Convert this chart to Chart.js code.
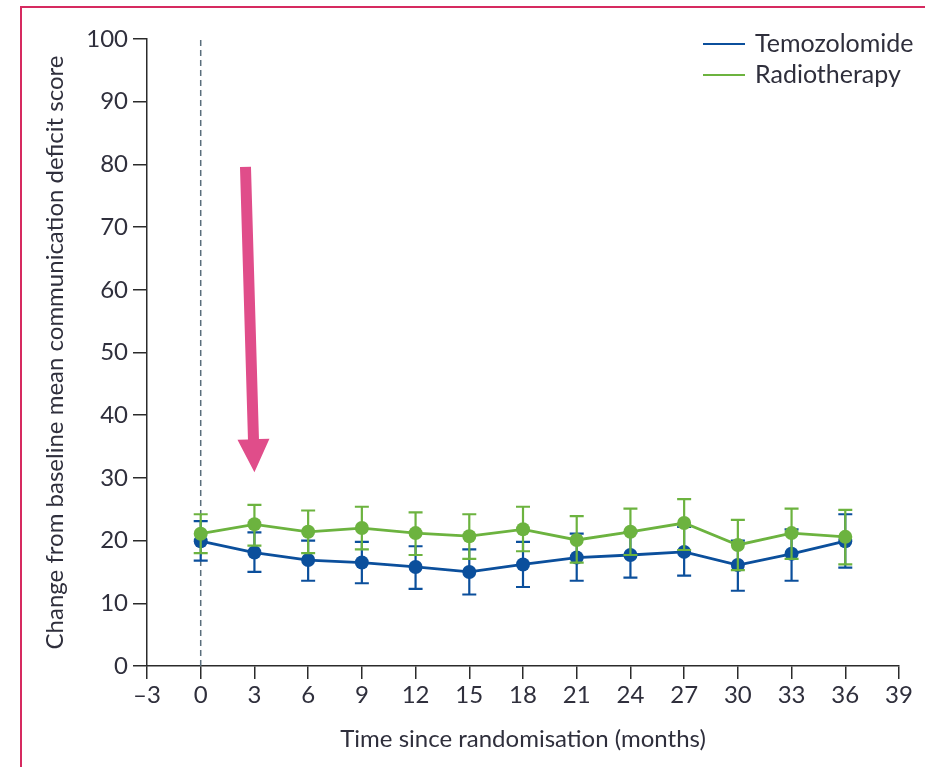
<!DOCTYPE html>
<html>
<head>
<meta charset="utf-8">
<script src="https://cdn.jsdelivr.net/npm/chart.js@4.4.1/dist/chart.umd.min.js"></script>
<style>
  html, body { margin: 0; padding: 0; background: #ffffff; }
  #wrap { position: relative; width: 925px; height: 767px; overflow: hidden; }
  #frame { position: absolute; left: 20px; top: 6px; width: 1000px; height: 1000px;
           border-left: 2px solid #d62a60; border-top: 2px solid #d62a60; }
  canvas { position: absolute; left: 0; top: 0; }
</style>
</head>
<body>
<div id="wrap">
  <div id="frame"></div>
  <canvas id="c" width="925" height="767"></canvas>
</div>
<script>
// ---- data ----
const months = [0, 3, 6, 9, 12, 15, 18, 21, 24, 27, 30, 33, 36];
const temozolomide      = [19.9, 18.1, 16.9, 16.5, 15.8, 15.0, 16.2, 17.3, 17.7, 18.2, 16.1, 17.9, 19.9];
const temozolomideLow   = [16.8, 15.0, 13.6, 13.2, 12.3, 11.4, 12.6, 13.6, 14.1, 14.4, 12.0, 13.6, 15.7];
const temozolomideHigh  = [23.1, 21.3, 20.0, 19.8, 19.1, 18.6, 19.8, 21.1, 21.3, 22.2, 20.0, 21.8, 24.2];
const radiotherapy      = [21.1, 22.6, 21.4, 22.0, 21.2, 20.7, 21.8, 20.1, 21.4, 22.8, 19.3, 21.2, 20.6];
const radiotherapyLow   = [18.0, 19.2, 18.0, 18.6, 17.7, 17.1, 18.3, 16.5, 17.7, 18.5, 15.3, 17.1, 16.2];
const radiotherapyHigh  = [24.2, 25.7, 24.8, 25.4, 24.5, 24.2, 25.4, 23.9, 25.1, 26.6, 23.3, 25.1, 24.9];
const xTicks = [-3, 0, 3, 6, 9, 12, 15, 18, 21, 24, 27, 30, 33, 36, 39];
const yTicks = [0, 10, 20, 30, 40, 50, 60, 70, 80, 90, 100];
const seriesLabels = ['Temozolomide', 'Radiotherapy'];
const baselineLine = [{ x: 0, y: 0 }, { x: 0, y: 100.3 }];
const arrowFrom = { x: 2.5, y: 79.6 };
const arrowTo = { x: 3.0, y: 30.9 };

// ---- styles ----
const BLUE = '#0b4f9c';
const GREEN = '#6cb33f';
const TEXT = '#2f2f3c';
const AXIS = '#2b2b2b';
const FONT = 'Lato, "Open Sans", sans-serif';

const toPts = (ys) => months.map((m, i) => ({ x: m, y: ys[i] }));

const errorBars = {
  id: 'errorBars',
  beforeDatasetDraw(chart, args) {
    const ds = chart.data.datasets[args.index];
    if (!ds.low) return;
    const ctx = chart.ctx;
    const xs = chart.scales.x, ys = chart.scales.y;
    ctx.save();
    ctx.strokeStyle = ds.borderColor;
    ctx.lineWidth = 2.2;
    ds.data.forEach((p, i) => {
      const x = xs.getPixelForValue(p.x);
      const yl = ys.getPixelForValue(ds.low[i]);
      const yh = ys.getPixelForValue(ds.high[i]);
      ctx.beginPath();
      ctx.moveTo(x, yl); ctx.lineTo(x, yh);
      ctx.moveTo(x - 7, yl); ctx.lineTo(x + 7, yl);
      ctx.moveTo(x - 7, yh); ctx.lineTo(x + 7, yh);
      ctx.stroke();
    });
    ctx.restore();
  }
};

const extras = {
  id: 'extras',
  afterDraw(chart) {
    const ctx = chart.ctx;
    const xs = chart.scales.x, ys = chart.scales.y;
    // arrow
    const x1 = xs.getPixelForValue(arrowFrom.x), y1 = ys.getPixelForValue(arrowFrom.y);
    const x2 = xs.getPixelForValue(arrowTo.x), y2 = ys.getPixelForValue(arrowTo.y);
    const ang = Math.atan2(y2 - y1, x2 - x1);
    const headLen = 33, headHalf = 16, shaftHalf = 5.5;
    const bx = x2 - headLen * Math.cos(ang), by = y2 - headLen * Math.sin(ang);
    const nx = -Math.sin(ang), ny = Math.cos(ang);
    ctx.save();
    ctx.fillStyle = '#e04d8a';
    ctx.beginPath();
    ctx.moveTo(x1 + nx * shaftHalf, y1 + ny * shaftHalf);
    ctx.lineTo(bx + nx * shaftHalf, by + ny * shaftHalf);
    ctx.lineTo(bx + nx * headHalf, by + ny * headHalf);
    ctx.lineTo(x2, y2);
    ctx.lineTo(bx - nx * headHalf, by - ny * headHalf);
    ctx.lineTo(bx - nx * shaftHalf, by - ny * shaftHalf);
    ctx.lineTo(x1 - nx * shaftHalf, y1 - ny * shaftHalf);
    ctx.closePath();
    ctx.fill();
    // legend (in series order)
    ctx.font = '25px ' + FONT;
    ctx.textBaseline = 'middle';
    seriesLabels.forEach((lab, i) => {
      const d = chart.data.datasets.find(ds => ds.label === lab);
      const y = 44 + i * 31;
      ctx.strokeStyle = d.borderColor;
      ctx.lineWidth = 2;
      ctx.beginPath(); ctx.moveTo(703, y); ctx.lineTo(745, y); ctx.stroke();
      ctx.fillStyle = TEXT;
      ctx.fillText(lab, 755, y);
    });
    ctx.restore();
  }
};

new Chart(document.getElementById('c'), {
  type: 'line',
  data: {
    datasets: [
      {
        label: seriesLabels[1], data: toPts(radiotherapy), low: radiotherapyLow, high: radiotherapyHigh,
        borderColor: GREEN, backgroundColor: GREEN, borderWidth: 2.8, pointRadius: 7,
        pointBorderWidth: 0, order: 0
      },
      {
        label: seriesLabels[0], data: toPts(temozolomide), low: temozolomideLow, high: temozolomideHigh,
        borderColor: BLUE, backgroundColor: BLUE, borderWidth: 2.8, pointRadius: 7,
        pointBorderWidth: 0, order: 1
      },
      {
        label: 'baseline', data: baselineLine, borderColor: '#5a6e7c', borderWidth: 1.5,
        borderDash: [6, 4], pointRadius: 0, order: 2
      }
    ]
  },
  options: {
    responsive: false,
    animation: false,
    devicePixelRatio: 1,
    layout: { padding: { top: 39, right: 26, left: 0, bottom: 0 } },
    plugins: { legend: { display: false }, tooltip: { enabled: false } },
    scales: {
      x: {
        type: 'linear', min: -3, max: 39,
        afterBuildTicks: (s) => { s.ticks = xTicks.map(v => ({ value: v })); },
        afterFit: (s) => { s.height = 101; },
        grid: { drawOnChartArea: false, tickLength: 13, color: AXIS, lineWidth: 1.5 },
        border: { color: AXIS, width: 1.5 },
        ticks: {
          color: TEXT, font: { family: FONT, size: 24 }, padding: 2, maxRotation: 0, autoSkip: false,
          callback: (v) => (v < 0 ? '\u2013' + Math.abs(v) : String(v))
        },
        title: {
          display: true, text: 'Time since randomisation (months)', color: TEXT,
          font: { family: FONT, size: 24 }, padding: { top: 0, bottom: 13 }
        }
      },
      y: {
        type: 'linear', min: 0, max: 100,
        afterBuildTicks: (s) => { s.ticks = yTicks.map(v => ({ value: v })); },
        afterFit: (s) => { s.width = 147; },
        grid: { drawOnChartArea: false, tickLength: 14, color: AXIS, lineWidth: 1.5 },
        border: { color: AXIS, width: 1.5 },
        ticks: { color: TEXT, font: { family: FONT, size: 24 }, padding: 5 },
        title: {
          display: true, text: 'Change from baseline mean communication deficit score', color: TEXT,
          font: { family: FONT, size: 24 }, padding: { top: 41, bottom: 0 }
        }
      }
    }
  },
  plugins: [errorBars, extras]
});
</script>
</body>
</html>
